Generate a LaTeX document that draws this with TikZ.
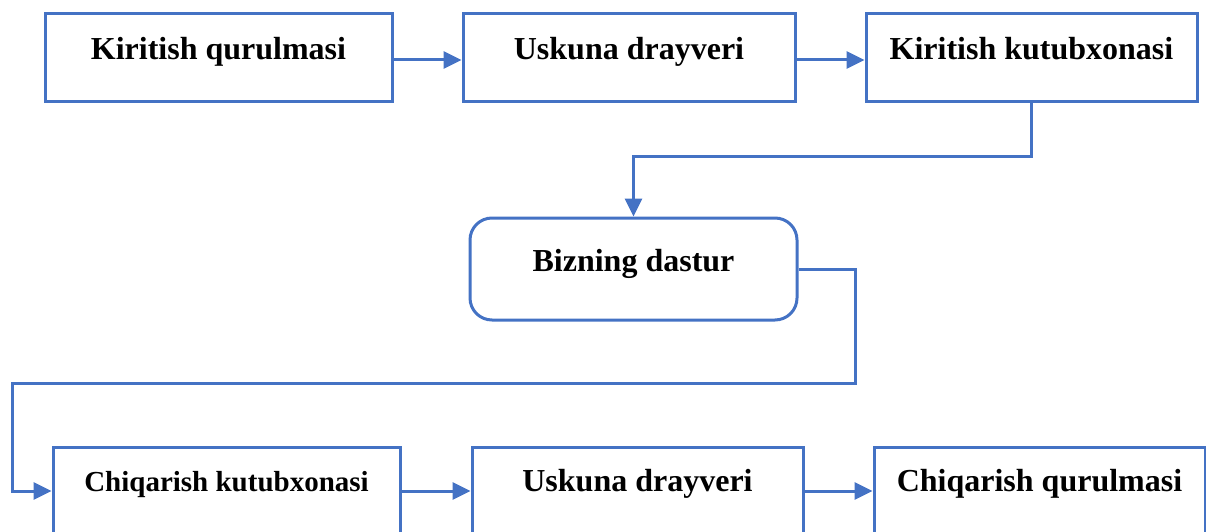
\documentclass[tikz,border=0pt]{standalone}
\usepackage{fontspec}
\setmainfont{Liberation Serif}
\usetikzlibrary{arrows.meta}
\definecolor{blu}{HTML}{4472C4}
\begin{document}
\begin{tikzpicture}[x=1pt,y=1pt,
  box/.style={draw=blu,line width=3pt,inner sep=0pt,font=\fontsize{32}{38}\selectfont\bfseries},
  topbox/.style={box,text height=46pt,text depth=42pt},
  botbox/.style={box,text height=44pt,text depth=70pt},
  conn/.style={draw=blu,line width=3pt,-{Triangle[length=18pt,width=17pt]}}]
\useasboundingbox (0,0) rectangle (1206,-532);
\node[topbox,minimum width=347pt] (b1) at (218.5,-58) {Kiritish qurulmasi};
\node[topbox,minimum width=332pt] (b2) at (629,-58) {Uskuna drayveri};
\node[topbox,minimum width=331pt] (b3) at (1031.5,-58) {Kiritish kutubxonasi};
\node[box,rounded corners=22pt,minimum width=327pt,text height=53pt,text depth=49pt] (b4) at (633.5,-269) {Bizning dastur};
\node[botbox,minimum width=347pt,font=\fontsize{29}{35}\selectfont\bfseries] (b5) at (226.5,-504) {Chiqarish kutubxonasi};
\node[botbox,minimum width=331pt] (b6) at (637.5,-504) {Uskuna drayveri};
\node[botbox,minimum width=331pt] (b7) at (1039.5,-504) {Chiqarish qurulmasi};
\coordinate (k1) at (1031.5,-156);
\coordinate (k2) at (855,-383);
\coordinate (k3) at (12,-383);
\draw[conn] (b1.base east) -- (b2.base west);
\draw[conn] (b2.base east) -- (b3.base west);
\draw[conn] (b3.south) |- (k1) -| (b4.north);
\draw[conn] (b4.east) -| (k2) -- (k3) |- (b5.base west);
\draw[conn] (b5.base east) -- (b6.base west);
\draw[conn] (b6.base east) -- (b7.base west);
\end{tikzpicture}
\end{document}
